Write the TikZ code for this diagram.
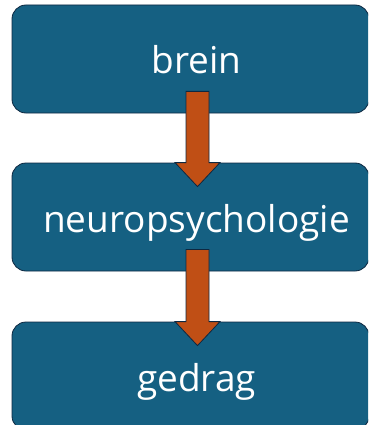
\documentclass[tikz,border=0pt]{standalone}
\usepackage{fontspec}
\setsansfont{Open Sans}
\usetikzlibrary{calc}
\definecolor{boxblue}{HTML}{156082}
\definecolor{arroworange}{HTML}{C04F15}
\definecolor{edgedark}{HTML}{0E2841}

\begin{document}
\begin{tikzpicture}[x=1pt, y=1pt,
    box/.style={rectangle, rounded corners=14pt, fill=boxblue, draw=edgedark, line width=.8pt,
        minimum width=357pt, minimum height=108pt, text height=30pt, text depth=0pt,
        text=white, font=\sffamily\fontsize{37}{44}\selectfont},
    blockarrow/.style={fill=arroworange, draw=edgedark, line width=.8pt, line join=miter}]
    \useasboundingbox (0,0) rectangle (368,-425);
    \clip (0,0) rectangle (368,-425);
    % Boxes
    \node[box] (Brein) at (190.5,-59) {\hspace*{12pt}brein};
    \node[box] (Neuro) at (190.5,-217) {\hspace*{12pt}neuropsychologie};
    \node[box] (Gedrag) at (190.5,-376) {\hspace*{12pt}gedrag};
    % Arrows
    \foreach \a/\b in {Brein/Neuro, Neuro/Gedrag} {
        \draw[blockarrow] ($(\a.south)+(-4.5,22)$) -- ($(\b.north)+(-4.5,0)$)
            -- ($(\b.north)+(-15.5,0)$) -- ($(\b.north)+(7,-24)$) -- ($(\b.north)+(29.5,0)$)
            -- ($(\b.north)+(18.5,0)$) -- ($(\a.south)+(18.5,22)$) -- cycle;
    }
\end{tikzpicture}
\end{document}
